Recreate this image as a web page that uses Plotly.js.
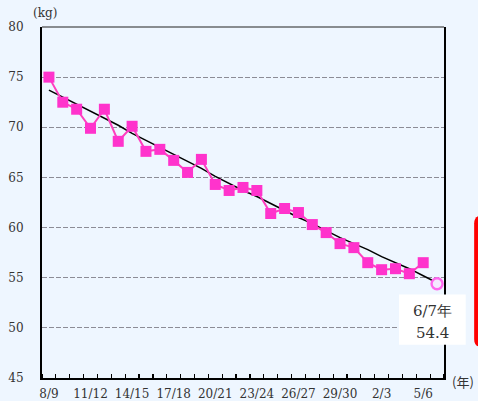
<!DOCTYPE html>
<html>
<head>
<meta charset="utf-8">
<script src="https://cdn.plot.ly/plotly-3.0.1.min.js"></script>
<style>
  html, body { margin: 0; padding: 0; background: #EEF6FF; }
  #chart { width: 478px; height: 401px; }
</style>
</head>
<body>
<div id="chart"></div>
<script>
// Seasons (Heisei 8/9 ... Reiwa 6/7)
const seasons = ["8/9","9/10","10/11","11/12","12/13","13/14","14/15","15/16","16/17","17/18",
  "18/19","19/20","20/21","21/22","22/23","23/24","24/25","25/26","26/27","27/28",
  "28/29","29/30","30/1","1/2","2/3","3/4","4/5","5/6","6/7"];
const tickLabels = ["8/9","11/12","14/15","17/18","20/21","23/24","26/27","29/30","2/3","5/6"];
// Observed values (kg), 8/9 .. 5/6
const observed = [75.0,72.5,71.8,69.9,71.8,68.6,70.1,67.6,67.8,66.7,
  65.5,66.8,64.3,63.7,64.0,63.7,61.4,61.9,61.5,60.3,
  59.5,58.4,58.0,56.5,55.8,55.9,55.4,56.5];
// Trend line (kg), 8/9 .. 6/7
const trend = [73.7,73.0,72.3,71.6,70.9,70.2,69.4,68.7,68.0,67.3,
  66.6,65.9,65.1,64.4,63.7,63.1,62.4,61.7,61.0,60.4,
  59.7,59.0,58.4,57.8,57.1,56.5,55.9,55.2,54.5];
const forecastSeason = "6/7";
const forecastValue = 54.4;

const idx = s => seasons.indexOf(s);
const obsX = observed.map((_, i) => i);
const trendX = trend.map((_, i) => i);

const serif = "DejaVu Serif";
const cjk = "Noto Sans CJK JP";

const traces = [
  {
    x: trendX, y: trend, type: "scatter", mode: "lines",
    line: { color: "#000000", width: 1.5 }, hoverinfo: "skip", showlegend: false
  },
  {
    x: obsX, y: observed, type: "scatter", mode: "lines+markers",
    line: { color: "#FF3FBF", width: 2 },
    marker: { symbol: "square", size: 11, color: "#FF33CC" },
    showlegend: false
  },
  {
    x: [idx(forecastSeason)], y: [forecastValue], type: "scatter", mode: "markers",
    marker: { symbol: "circle", size: 11, color: "#F4E8FF", line: { color: "#FF66EE", width: 2.4 } },
    showlegend: false
  }
];

const rx = 0.02, ry = 0.023, bx0 = 1.075, bx1 = 1.2, by0 = 0.088, by1 = 0.463;
const redPath = `M ${bx0 + rx},${by1} L ${bx1},${by1} L ${bx1},${by0} L ${bx0 + rx},${by0} ` +
  `Q ${bx0},${by0} ${bx0},${by0 + ry} L ${bx0},${by1 - ry} Q ${bx0},${by1} ${bx0 + rx},${by1} Z`;

const layout = {
  width: 478, height: 401,
  margin: { l: 42, r: 34, t: 27, b: 23, pad: 0 },
  paper_bgcolor: "#EEF6FF",
  plot_bgcolor: "#EEF6FF",
  showlegend: false,
  xaxis: {
    type: "linear",
    range: [-0.5, seasons.length - 0.5],
    tickmode: "array",
    tickvals: tickLabels.map(idx),
    ticktext: tickLabels,
    ticks: "",
    showgrid: false, zeroline: false,
    showline: true, linecolor: "#000", linewidth: 2, mirror: false,
    tickfont: { family: serif, size: 12, color: "#333" },
    ticklabelstandoff: 4,
    minor: { ticks: "inside", tick0: 0.5, dtick: 1, ticklen: 4, tickcolor: "#000", tickwidth: 1.2, showgrid: false }
  },
  yaxis: {
    range: [45, 80],
    tickmode: "linear", tick0: 45, dtick: 5,
    ticks: "",
    showgrid: true, gridcolor: "#8c8c96", griddash: "5px,2px", gridwidth: 1.2,
    zeroline: false,
    showline: true, linecolor: "#000", linewidth: 2, mirror: true,
    tickfont: { family: serif, size: 12, color: "#333" },
    ticklabelstandoff: 14
  },
  shapes: [
    { type: "line", xref: "paper", yref: "paper", x0: 0, x1: 1, y0: 1, y1: 1,
      line: { color: "#222", width: 1.2 }, layer: "above" },
    { type: "rect", xref: "paper", yref: "paper", x0: 0.888, x1: 1.054, y0: 0.095, y1: 0.238,
      fillcolor: "#FFFFFF", line: { width: 0 }, layer: "above" },
    { type: "path", xref: "paper", yref: "paper", path: redPath,
      fillcolor: "#FF0000", line: { width: 0 }, layer: "above" }
  ],
  annotations: [
    { text: "(kg)", xref: "paper", yref: "paper", x: 0.0075, y: 1.039, showarrow: false,
      xanchor: "center", yanchor: "middle", font: { family: serif, size: 12, color: "#333" } },
    { text: "(年)", xref: "paper", yref: "paper", x: 1.0485, y: -0.0094, showarrow: false,
      xanchor: "center", yanchor: "middle", font: { family: cjk, size: 13, color: "#333" } },
    { text: forecastSeason + "年", xref: "paper", yref: "paper", x: 0.971, y: 0.192, showarrow: false,
      xanchor: "center", yanchor: "middle", font: { family: serif, size: 15, color: "#333" } },
    { text: forecastValue.toFixed(1), xref: "paper", yref: "paper", x: 0.971, y: 0.127, showarrow: false,
      xanchor: "center", yanchor: "middle", font: { family: serif, size: 15, color: "#333" } }
  ]
};

Plotly.newPlot("chart", traces, layout, { displayModeBar: false, staticPlot: true });
</script>
</body>
</html>
